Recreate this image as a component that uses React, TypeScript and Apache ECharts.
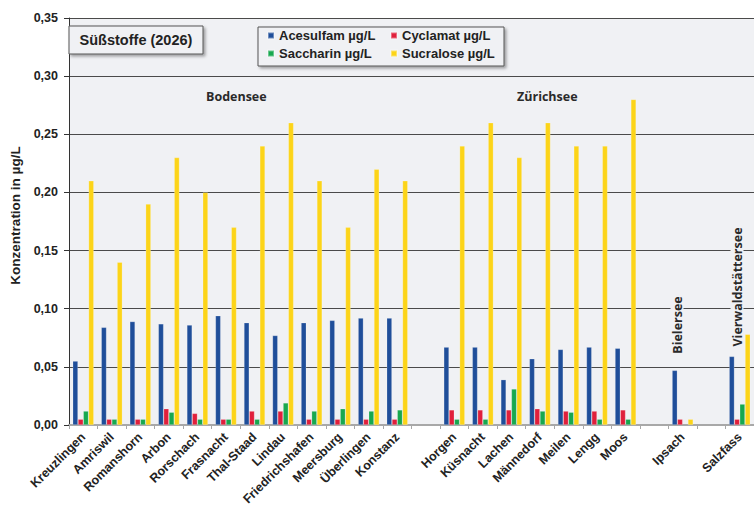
import React, { useEffect, useRef } from "react";
import * as echarts from "echarts";

const categories = [
  "Kreuzlingen", "Amriswil", "Romanshorn", "Arbon", "Rorschach", "Frasnacht",
  "Thal-Staad", "Lindau", "Friedrichshafen", "Meersburg", "Überlingen", "Konstanz",
  "", "Horgen", "Küsnacht", "Lachen", "Männedorf", "Meilen", "Lengg", "Moos",
  "", "Ipsach", "", "Salzfass",
];

const acesulfam = [
  0.055, 0.084, 0.089, 0.087, 0.086, 0.094, 0.088, 0.077, 0.088, 0.09, 0.092, 0.092,
  null, 0.067, 0.067, 0.039, 0.057, 0.065, 0.067, 0.066,
  null, 0.047, null, 0.059,
];
const cyclamat = [
  0.005, 0.005, 0.005, 0.014, 0.01, 0.005, 0.012, 0.012, 0.005, 0.005, 0.005, 0.005,
  null, 0.013, 0.013, 0.013, 0.014, 0.012, 0.012, 0.013,
  null, 0.005, null, 0.005,
];
const saccharin = [
  0.012, 0.005, 0.005, 0.011, 0.005, 0.005, 0.005, 0.019, 0.012, 0.014, 0.012, 0.013,
  null, 0.005, 0.005, 0.031, 0.012, 0.011, 0.005, 0.005,
  null, null, null, 0.018,
];
const sucralose = [
  0.21, 0.14, 0.19, 0.23, 0.2, 0.17, 0.24, 0.26, 0.21, 0.17, 0.22, 0.21,
  null, 0.24, 0.26, 0.23, 0.26, 0.24, 0.24, 0.28,
  null, 0.005, null, 0.078,
];

const seriesNames = ["Acesulfam µg/L", "Cyclamat µg/L", "Saccharin µg/L", "Sucralose µg/L"];
const seriesColors = ["#1f4e9a", "#e0203c", "#17a84f", "#fcd419"];
const seriesData = [acesulfam, cyclamat, saccharin, sucralose];

const plotBg = "#f0f1f4";
const font = "Arial, 'Liberation Sans', sans-serif";
const font2 = "'Open Sans', sans-serif";

export default function App() {
  const ref = useRef<HTMLDivElement>(null);
  useEffect(() => {
    if (!ref.current) return;
    const chart = echarts.init(ref.current, undefined, { renderer: "svg" });
    const legendText = { fontFamily: font, fontWeight: "bold", fontSize: 13, color: "#222" };
    const option: any = {
      animation: false,
      backgroundColor: "#ffffff",
      grid: {
        left: 65,
        top: 18,
        width: 694,
        height: 407,
        show: true,
        backgroundColor: plotBg,
        borderWidth: 0,
      },
      legend: [
        {
          data: [seriesNames[0], seriesNames[2]],
          orient: "vertical",
          left: 267,
          top: 29,
          padding: 0,
          itemWidth: 6,
          itemHeight: 6,
          itemGap: 5,
          icon: "rect",
          z: 20,
          textStyle: legendText,
        },
        {
          data: [seriesNames[1], seriesNames[3]],
          orient: "vertical",
          left: 390,
          top: 29,
          padding: 0,
          itemWidth: 6,
          itemHeight: 6,
          itemGap: 5,
          icon: "rect",
          z: 20,
          textStyle: legendText,
        },
      ],
      xAxis: {
        type: "category",
        data: categories,
        axisLine: { show: true, lineStyle: { color: "#a8a8a8", width: 2 } },
        axisTick: { show: true, length: 4, interval: 0, lineStyle: { color: "#a8a8a8" } },
        axisLabel: {
          interval: 0,
          rotate: 45,
          margin: 10,
          fontFamily: font,
          fontWeight: "bold",
          fontSize: 12.5,
          color: "#222",
        },
        splitLine: { show: false },
      },
      yAxis: {
        type: "value",
        min: 0,
        max: 0.35,
        interval: 0.05,
        name: "Konzentration in µg/L",
        nameLocation: "middle",
        nameGap: 47,
        nameTextStyle: { fontFamily: font, fontWeight: "bold", fontSize: 13.5, color: "#222", padding: [0, 0, 0, 12] },
        axisLine: { show: true, lineStyle: { color: "#333", width: 1 } },
        axisTick: { show: true, length: 5, lineStyle: { color: "#333" } },
        axisLabel: {
          margin: 11,
          fontFamily: font,
          fontWeight: "bold",
          fontSize: 12.5,
          color: "#222",
          formatter: (v: number) => v.toFixed(2).replace(".", ","),
        },
        splitLine: { show: true, lineStyle: { color: "#4a4a4a", width: 1 } },
      },
      series: seriesNames.map((name, i) => ({
        name,
        type: "bar",
        data: seriesData[i],
        barGap: "0%",
        barCategoryGap: "26%",
        itemStyle: { color: seriesColors[i], borderColor: "rgba(255,255,255,0.35)", borderWidth: 0.6 },
      })),
      graphic: [
        {
          type: "rect",
          shape: { x: 69, y: 26, width: 134, height: 28 },
          style: {
            fill: plotBg,
            stroke: "#555",
            lineWidth: 1,
            shadowBlur: 3,
            shadowOffsetX: 2,
            shadowOffsetY: 2,
            shadowColor: "rgba(0,0,0,0.35)",
          },
          z: 10,
        },
        {
          type: "text",
          x: 136,
          y: 40,
          style: {
            text: "Süßstoffe (2026)",
            fill: "#222",
            font: `bold 14.5px ${font}`,
            align: "center",
            verticalAlign: "middle",
          },
          z: 11,
        },
        {
          type: "rect",
          shape: { x: 258, y: 27, width: 246, height: 39 },
          style: {
            fill: plotBg,
            stroke: "#555",
            lineWidth: 1,
            shadowBlur: 3,
            shadowOffsetX: 2,
            shadowOffsetY: 2,
            shadowColor: "rgba(0,0,0,0.35)",
          },
          z: 10,
        },
        {
          type: "text",
          x: 206,
          y: 96,
          style: {
            text: "Bodensee",
            fill: "#2a2a2a",
            font: `bold 12.5px ${font2}`,
            align: "left",
            verticalAlign: "middle",
          },
        },
        {
          type: "text",
          x: 517,
          y: 96,
          style: {
            text: "Zürichsee",
            fill: "#2a2a2a",
            font: `bold 12.5px ${font2}`,
            align: "left",
            verticalAlign: "middle",
          },
        },
        {
          type: "text",
          x: 677,
          y: 325,
          rotation: Math.PI / 2,
          style: {
            text: "Bielersee",
            fill: "#2a2a2a",
            font: `bold 12.5px ${font2}`,
            align: "center",
            verticalAlign: "middle",
            backgroundColor: plotBg,
            padding: [0, 4],
          },
          z: 5,
        },
        {
          type: "text",
          x: 737,
          y: 287,
          rotation: Math.PI / 2,
          style: {
            text: "Vierwaldstättersee",
            fill: "#2a2a2a",
            font: `bold 12.5px ${font2}`,
            align: "center",
            verticalAlign: "middle",
            backgroundColor: plotBg,
            padding: [0, 4],
          },
          z: 5,
        },
      ],
    };
    chart.setOption(option);
    return () => chart.dispose();
  }, []);
  return (
    <div
      ref={ref}
      style={{ position: "fixed", left: 0, top: 0, width: 754, height: 509 }}
    />
  );
}
